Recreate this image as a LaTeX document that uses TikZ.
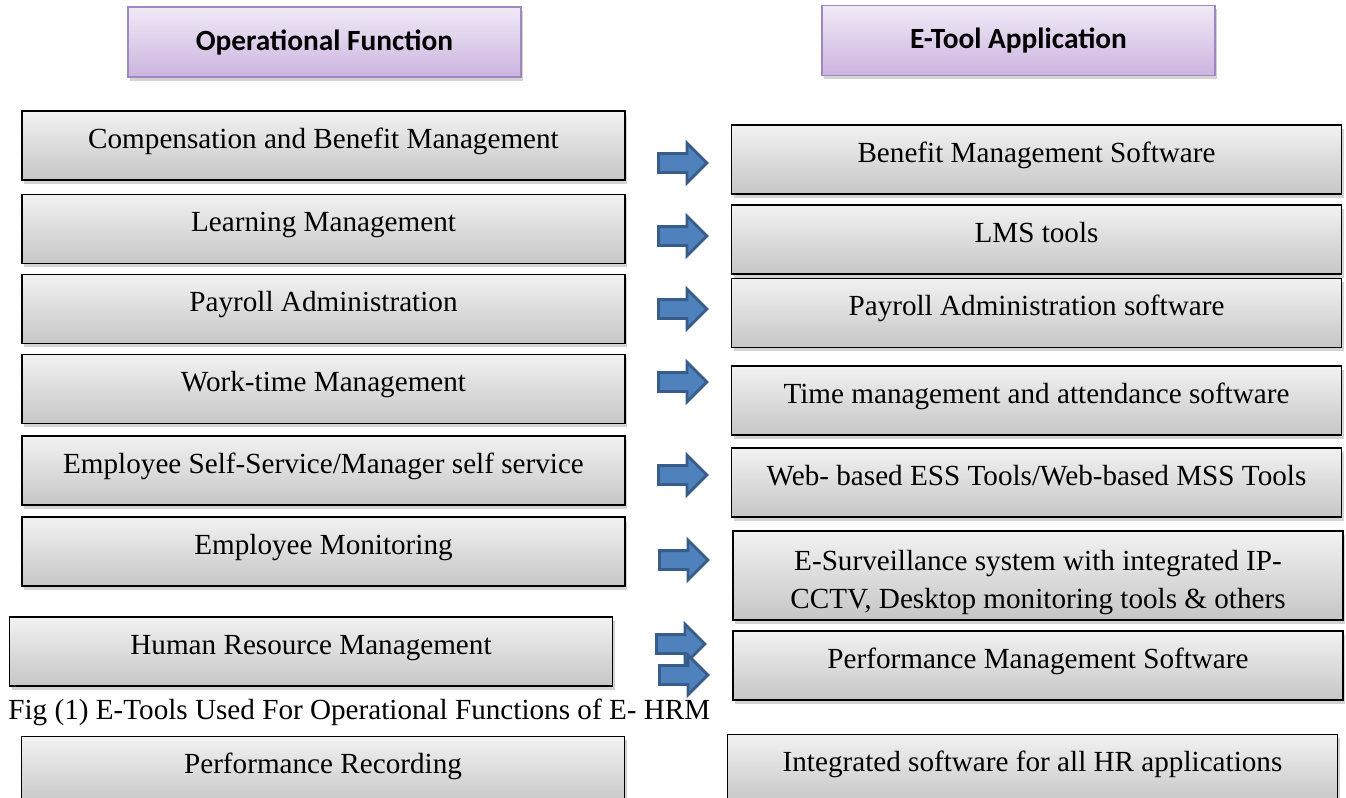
\documentclass[tikz,border=0pt]{standalone}
\usepackage{fontspec}
\setmainfont{Liberation Serif}
\newfontfamily\hdfont{Carlito}
\usepackage{xcolor}
\usepackage{tikz}
\usetikzlibrary{shapes.arrows,shadows}

\definecolor{boxtop}{HTML}{F2F2F2}
\definecolor{boxbot}{HTML}{C6C6C6}
\definecolor{hdtop}{HTML}{F0EAF6}
\definecolor{hdbot}{HTML}{CBB4DF}
\definecolor{hdline}{HTML}{9E89BE}
\definecolor{arfill}{HTML}{4F81BD}
\definecolor{arline}{HTML}{385D8A}

\tikzset{
    itembox/.style={draw=black, line width=1pt, top color=boxtop, bottom color=boxbot,
        minimum height=1.38cm, inner sep=0pt, text height=10.5pt, text depth=7.5pt,
        font=\fontsize{16.6}{21.5}\selectfont,
        drop shadow={shadow xshift=1.2pt, shadow yshift=-2.2pt, opacity=0.35}},
    headbox/.style={draw=hdline, line width=1pt, top color=hdtop, bottom color=hdbot,
        minimum width=7.86cm, minimum height=1.4cm, inner sep=0pt,
        font=\hdfont\bfseries\fontsize{16.7}{20}\selectfont,
        drop shadow={shadow xshift=1.2pt, shadow yshift=-2.2pt, opacity=0.35}},
    blockarrow/.style={single arrow, draw=arline, fill=arfill, line width=1.6pt,
        minimum width=0pt, minimum height=0.97cm, text height=0.16cm, text depth=0.16cm,
        single arrow head extend=0.21cm, inner sep=0pt}
}

\begin{document}
\begin{tikzpicture}[x=0.02cm, y=-0.02cm]
    \useasboundingbox (0,0) rectangle (1346,798);

    % Column headers
    \node[headbox] (hfun) at (324.5,42) {Operational Function};
    \node[headbox] (htool) at (1018.5,40.5) {E-Tool Application};

    % Operational functions on the left
    \foreach \i/\x/\y/\txt in {1/323.5/145.5/{Compensation and Benefit Management},
                               2/323.5/229/{Learning Management},
                               3/323.5/309/{Payroll Administration},
                               4/323.5/389/{Work-time Management},
                               5/323.5/470.5/{Employee Self-Service/Manager self service},
                               6/323.5/551.5/{Employee Monitoring},
                               7/311/651.5/{Human Resource Management},
                               8/323/771/{Performance Recording}} {
        \node[itembox, minimum width=12.06cm] (fn\i) at (\x,\y) {\txt};
    }

    % E-tools on the right
    \foreach \i/\x/\y/\txt in {1/1036.5/159.5/{Benefit Management Software},
                               2/1036.5/239.5/{LMS tools},
                               3/1036.5/313/{Payroll Administration software},
                               4/1036.5/400.5/{Time management and attendance software},
                               5/1036.5/482.5/{Web- based ESS Tools/Web-based MSS Tools},
                               7/1038/665.5/{Performance Management Software},
                               8/1032.5/769/{Integrated software for all HR applications}} {
        \node[itembox, minimum width=12.2cm] (tool\i) at (\x,\y) {\txt};
    }
    \node[itembox, minimum width=12.2cm, minimum height=1.78cm, text height={}, text depth={},
          align=center] (tool6) at (1038,575.5)
        {\rule{0pt}{19.5pt}E-Surveillance system with integrated IP-\\CCTV, Desktop monitoring tools \& others};

    % Block arrows between the columns
    \foreach \i/\x/\y in {1/678/163, 2/678/236, 3/678/309, 4/678/382,
                          5/678/475, 6/679/560, 7/676/644, 8/679/675} {
        \node[blockarrow] (ar\i) at (\x,\y) {};
    }

    % Caption
    \node[anchor=base west, inner sep=0pt, font=\fontsize{16.6}{20}\selectfont] (cap) at (8,719)
        {Fig (1) E-Tools Used For Operational Functions of E- HRM};

\end{tikzpicture}
\end{document}
